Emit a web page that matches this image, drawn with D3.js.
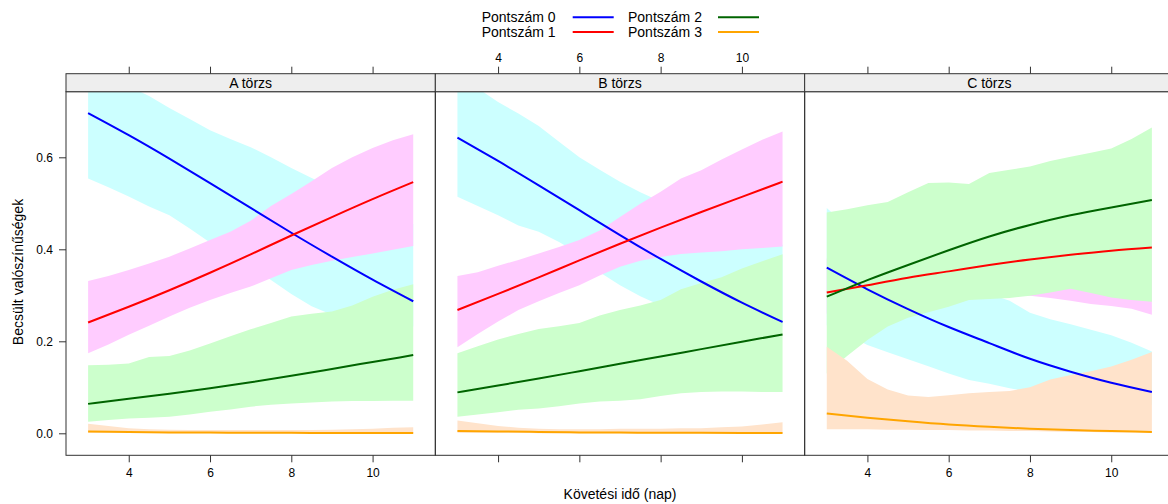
<!DOCTYPE html>
<html>
<head>
<meta charset="utf-8">
<script src="https://cdn.jsdelivr.net/npm/d3@7"></script>
<style>
  body { margin: 0; background: #fff; }
  text { font-family: "Liberation Sans", Arial, sans-serif; fill: #000; }
</style>
</head>
<body>
<svg id="chart"></svg>
<script>
// categories
const strains = ["A törzs", "B törzs", "C törzs"];
const scores = ["Pontszám 0", "Pontszám 1", "Pontszám 2", "Pontszám 3"];
const xTicks = [4, 6, 8, 10];
const yTicks = [0.0, 0.2, 0.4, 0.6];

// x positions of the fitted curves and of the band edges
const xFit = [3, 4, 5, 6, 7, 8, 9, 10, 11];
const xBand = [3, 3.5, 4, 4.5, 5, 5.5, 6, 6.5, 7, 7.5, 8, 8.5, 9, 9.5, 10, 10.5, 11];

// fitted probabilities, one row per score (0..3)
const fitA = [
  [0.696, 0.648, 0.597, 0.544, 0.490, 0.436, 0.384, 0.334, 0.287],
  [0.241, 0.275, 0.311, 0.349, 0.389, 0.430, 0.470, 0.509, 0.546],
  [0.064, 0.075, 0.086, 0.098, 0.111, 0.125, 0.140, 0.155, 0.170],
  [0.004, 0.003, 0.002, 0.0015, 0.001, 0.001, 0.0008, 0.0006, 0.0005]
];
const fitB = [
  [0.643, 0.592, 0.539, 0.485, 0.431, 0.379, 0.330, 0.284, 0.242],
  [0.268, 0.303, 0.339, 0.376, 0.412, 0.447, 0.481, 0.514, 0.547],
  [0.089, 0.104, 0.119, 0.135, 0.151, 0.167, 0.183, 0.199, 0.215],
  [0.005, 0.004, 0.003, 0.002, 0.0015, 0.001, 0.001, 0.0008, 0.0006]
];
const fitC = [
  [0.360, 0.313, 0.270, 0.231, 0.196, 0.162, 0.134, 0.110, 0.090],
  [0.306, 0.322, 0.338, 0.352, 0.366, 0.378, 0.388, 0.397, 0.404],
  [0.297, 0.333, 0.366, 0.398, 0.428, 0.453, 0.474, 0.491, 0.507],
  [0.043, 0.034, 0.026, 0.019, 0.014, 0.010, 0.007, 0.005, 0.003]
];

// confidence bands, lower and upper edges
const loA = [
  [0.554, 0.535, 0.515, 0.493, 0.474, 0.445, 0.415, 0.390, 0.365, 0.333, 0.303, 0.276, 0.258, 0.250, 0.243, 0.237, 0.232],
  [0.174, 0.193, 0.214, 0.234, 0.254, 0.273, 0.290, 0.305, 0.319, 0.337, 0.355, 0.366, 0.375, 0.383, 0.391, 0.399, 0.407],
  [0.025, 0.029, 0.032, 0.034, 0.036, 0.041, 0.047, 0.052, 0.058, 0.062, 0.065, 0.067, 0.069, 0.070, 0.070, 0.071, 0.071],
  [0.001, 0.001, 0.001, 0.001, 0.000, 0.000, 0.000, 0.000, 0.000, 0.000, 0.000, 0.000, 0.000, 0.000, 0.000, 0.000, 0.000]
];
const hiA = [
  [0.800, 0.780, 0.755, 0.733, 0.707, 0.683, 0.659, 0.640, 0.622, 0.600, 0.577, 0.555, 0.535, 0.515, 0.495, 0.475, 0.455],
  [0.331, 0.342, 0.355, 0.369, 0.384, 0.402, 0.420, 0.438, 0.462, 0.494, 0.520, 0.548, 0.577, 0.600, 0.620, 0.637, 0.650],
  [0.148, 0.149, 0.152, 0.166, 0.168, 0.180, 0.195, 0.211, 0.226, 0.240, 0.254, 0.260, 0.265, 0.278, 0.297, 0.312, 0.324],
  [0.021, 0.016, 0.011, 0.009, 0.008, 0.007, 0.007, 0.007, 0.007, 0.007, 0.007, 0.007, 0.008, 0.009, 0.010, 0.012, 0.013]
];
const loB = [
  [0.514, 0.494, 0.474, 0.452, 0.438, 0.416, 0.390, 0.350, 0.322, 0.298, 0.278, 0.265, 0.255, 0.248, 0.242, 0.237, 0.232],
  [0.187, 0.216, 0.243, 0.268, 0.287, 0.305, 0.322, 0.343, 0.362, 0.375, 0.383, 0.390, 0.393, 0.396, 0.400, 0.403, 0.406],
  [0.036, 0.041, 0.046, 0.051, 0.054, 0.059, 0.065, 0.069, 0.071, 0.074, 0.081, 0.087, 0.090, 0.091, 0.091, 0.090, 0.090],
  [0.001, 0.001, 0.001, 0.001, 0.000, 0.000, 0.000, 0.000, 0.000, 0.000, 0.000, 0.000, 0.000, 0.000, 0.000, 0.000, 0.000]
];
const hiB = [
  [0.800, 0.750, 0.720, 0.695, 0.668, 0.634, 0.600, 0.573, 0.547, 0.524, 0.504, 0.485, 0.467, 0.450, 0.435, 0.422, 0.410],
  [0.342, 0.350, 0.364, 0.377, 0.391, 0.405, 0.420, 0.441, 0.470, 0.499, 0.525, 0.554, 0.572, 0.595, 0.617, 0.638, 0.656],
  [0.174, 0.189, 0.204, 0.216, 0.227, 0.233, 0.240, 0.256, 0.268, 0.278, 0.290, 0.313, 0.327, 0.339, 0.358, 0.374, 0.389],
  [0.028, 0.022, 0.016, 0.012, 0.010, 0.009, 0.009, 0.009, 0.010, 0.010, 0.010, 0.011, 0.011, 0.013, 0.015, 0.019, 0.024]
];
const loC = [
  [0.235, 0.215, 0.192, 0.176, 0.161, 0.146, 0.130, 0.116, 0.108, 0.098, 0.090, 0.085, 0.080, 0.075, 0.070, 0.066, 0.062],
  [0.260, 0.270, 0.275, 0.280, 0.285, 0.290, 0.293, 0.296, 0.298, 0.300, 0.299, 0.294, 0.288, 0.281, 0.277, 0.271, 0.258],
  [0.130, 0.168, 0.203, 0.232, 0.251, 0.263, 0.275, 0.290, 0.292, 0.294, 0.299, 0.306, 0.314, 0.305, 0.295, 0.290, 0.286],
  [0.009, 0.009, 0.009, 0.008, 0.008, 0.007, 0.007, 0.006, 0.006, 0.005, 0.005, 0.004, 0.003, 0.003, 0.002, 0.002, 0.001]
];
const hiC = [
  [0.490, 0.450, 0.420, 0.390, 0.365, 0.345, 0.328, 0.315, 0.303, 0.288, 0.262, 0.248, 0.237, 0.225, 0.213, 0.197, 0.178],
  [0.380, 0.390, 0.400, 0.410, 0.420, 0.430, 0.440, 0.448, 0.455, 0.462, 0.470, 0.475, 0.480, 0.485, 0.490, 0.495, 0.500],
  [0.480, 0.487, 0.496, 0.503, 0.524, 0.544, 0.545, 0.542, 0.566, 0.573, 0.580, 0.592, 0.601, 0.610, 0.619, 0.640, 0.665],
  [0.188, 0.158, 0.118, 0.095, 0.082, 0.079, 0.083, 0.087, 0.090, 0.092, 0.100, 0.117, 0.127, 0.135, 0.145, 0.160, 0.177]
];

const lineColors = ["#0000ff", "#ff0000", "#006400", "#ffa500"];
const bandColors = ["#ccffff", "#ffccff", "#ccffcc", "#ffe3cb"];

const W = 1168, H = 504;
const left = 66, panelW = 369.33;
const stripTop = 73.7, plotTop = 91.7, plotBottom = 455.3;
const tick = 7;
const fontFam = '"Liberation Sans", Arial, sans-serif';

const svg = d3.select("#chart").attr("width", W).attr("height", H);

const y = d3.scaleLinear().domain([-0.0478, 0.7426]).range([plotBottom, plotTop]);

const panels = [
  { name: strains[0], fit: fitA, lo: loA, hi: hiA, bottomLabels: true, topLabels: false },
  { name: strains[1], fit: fitB, lo: loB, hi: hiB, bottomLabels: false, topLabels: true },
  { name: strains[2], fit: fitC, lo: loC, hi: hiC, bottomLabels: true, topLabels: false }
];

panels.forEach((p, i) => {
  const x0 = left + i * panelW;
  const x = d3.scaleLinear().domain([2.456, 11.544]).range([x0, x0 + panelW]);
  const g = svg.append("g");

  g.append("clipPath").attr("id", "clip" + i)
    .append("rect").attr("x", x0).attr("y", plotTop)
    .attr("width", panelW).attr("height", plotBottom - plotTop);

  const plot = g.append("g").attr("clip-path", `url(#clip${i})`);

  // bands first, all four, then the fitted curves over them
  const area = d3.area()
    .x((d) => x(d[0]))
    .y0((d) => y(d[1]))
    .y1((d) => y(d[2]));
  p.lo.forEach((lo, k) => {
    const pts = xBand.map((xv, j) => [xv, lo[j], p.hi[k][j]]);
    plot.append("path").attr("d", area(pts))
      .attr("fill", bandColors[k]).attr("stroke", "none");
  });

  const line = d3.line()
    .x((d) => x(d[0]))
    .y((d) => y(d[1]))
    .curve(d3.curveNatural);
  p.fit.forEach((f, k) => {
    plot.append("path").attr("d", line(xFit.map((xv, j) => [xv, f[j]])))
      .attr("fill", "none").attr("stroke", lineColors[k]).attr("stroke-width", 2);
  });

  // frame and strip
  g.append("rect").attr("x", x0).attr("y", plotTop)
    .attr("width", panelW).attr("height", plotBottom - plotTop)
    .attr("fill", "none").attr("stroke", "#333").attr("stroke-width", 1);
  g.append("rect").attr("x", x0).attr("y", stripTop)
    .attr("width", panelW).attr("height", plotTop - stripTop)
    .attr("fill", "#eeeeee").attr("stroke", "#333").attr("stroke-width", 1);
  g.append("text").attr("x", x0 + panelW / 2).attr("y", 88)
    .attr("text-anchor", "middle").attr("font-size", 14).text(p.name);

  // axes
  const bAxis = d3.axisBottom(x).tickValues(xTicks).tickSize(tick).tickSizeOuter(0).tickPadding(6)
    .tickFormat(p.bottomLabels ? d3.format("d") : () => "");
  const tAxis = d3.axisTop(x).tickValues(xTicks).tickSize(tick).tickSizeOuter(0).tickPadding(5)
    .tickFormat(p.topLabels ? d3.format("d") : () => "");
  [[bAxis, plotBottom], [tAxis, stripTop]].forEach(([ax, yy]) => {
    const a = g.append("g").attr("transform", `translate(0,${yy})`).call(ax);
    a.select(".domain").remove();
    a.selectAll("line").attr("stroke", "#333");
    a.selectAll("text").attr("font-size", 12).attr("fill", "#000").attr("font-family", fontFam);
  });

  if (i === 0) {
    const a = g.append("g").attr("transform", `translate(${x0},0)`)
      .call(d3.axisLeft(y).tickValues(yTicks).tickSize(tick).tickSizeOuter(0).tickPadding(6)
        .tickFormat(d3.format(".1f")));
    a.select(".domain").remove();
    a.selectAll("line").attr("stroke", "#333");
    a.selectAll("text").attr("font-size", 12).attr("fill", "#000").attr("font-family", fontFam);
  }
});

// axis titles
svg.append("text").attr("x", left + panelW * 1.5).attr("y", 499)
  .attr("text-anchor", "middle").attr("font-size", 14).text("Követési idő (nap)");
svg.append("text").attr("transform", "translate(23,272) rotate(-90)")
  .attr("text-anchor", "middle").attr("font-size", 14).text("Becsült valószínűségek");

// legend, two columns
const legX = [481.7, 628], legLine = [572.7, 718], legY = [17.3, 32];
scores.forEach((s, k) => {
  const col = Math.floor(k / 2), row = k % 2;
  svg.append("text").attr("x", legX[col]).attr("y", legY[row] + 5)
    .attr("font-size", 14).text(s);
  svg.append("line")
    .attr("x1", legLine[col]).attr("x2", legLine[col] + 41)
    .attr("y1", legY[row]).attr("y2", legY[row])
    .attr("stroke", lineColors[k]).attr("stroke-width", 2);
});
</script>
</body>
</html>
